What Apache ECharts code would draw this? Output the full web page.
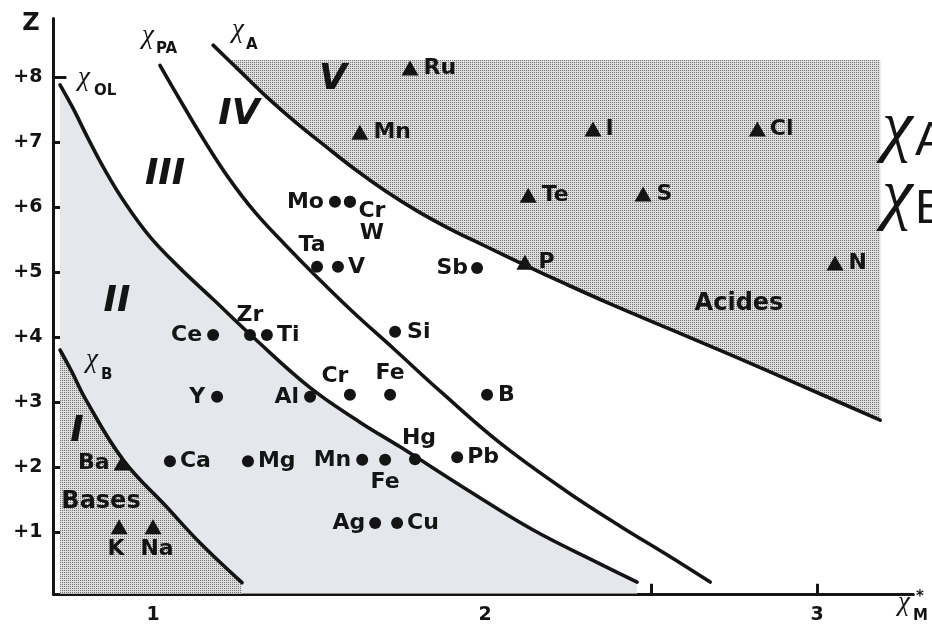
<!DOCTYPE html>
<html>
<head>
<meta charset="utf-8">
<title>Caractère acido-basique des oxydes</title>
<script src="https://cdn.jsdelivr.net/npm/echarts@6/dist/echarts.min.js"></script>
<style>
html, body { margin: 0; padding: 0; background: #fff; }
#chart { width: 932px; height: 628px; }
</style>
</head>
<body>
<div id="chart"></div>
<script>
// Boundary curves, each point is [χ*_M, Z]
const curveOL = [[0.720, 7.88], [0.759, 7.52], [0.804, 7.06], [0.855, 6.57], [0.916, 6.06], [0.991, 5.54],
  [1.081, 5.06], [1.181, 4.58], [1.301, 4.00], [1.473, 3.22], [1.623, 2.69], [1.744, 2.31], [1.946, 1.65],
  [2.145, 1.03], [2.346, 0.51], [2.458, 0.23]];
const curvePA = [[1.021, 8.18], [1.081, 7.65], [1.151, 7.05], [1.226, 6.46], [1.307, 5.92], [1.398, 5.42],
  [1.494, 4.92], [1.599, 4.40], [1.729, 3.80], [1.864, 3.17], [2.045, 2.37], [2.247, 1.62], [2.407, 1.09],
  [2.548, 0.65], [2.678, 0.23]];
const curveA = [[1.181, 8.49], [1.262, 8.09], [1.343, 7.69], [1.428, 7.31], [1.518, 6.94], [1.608, 6.58],
  [1.699, 6.25], [1.795, 5.94], [1.895, 5.66], [2.000, 5.40], [2.114, 5.12], [2.241, 4.82], [2.377, 4.51],
  [2.548, 4.14], [2.747, 3.71], [2.949, 3.26], [3.190, 2.72]];
const curveB = [[0.720, 3.80], [0.756, 3.46], [0.795, 3.06], [0.910, 2.11], [1.042, 1.38], [1.142, 0.83], [1.268, 0.22]];

// Upper limit of the acid field
const acidTopZ = 8.26;

// Elements plotted with a dot
const dotNames = ['Mo', 'Cr', 'W', 'Ta', 'V', 'Sb', 'Ce', 'Zr', 'Ti', 'Si', 'Y', 'Al', 'Cr', 'Fe', 'B',
  'Ca', 'Mg', 'Mn', 'Fe', 'Hg', 'Pb', 'Ag', 'Cu'];
const dotX = [1.548, 1.593, 1.593, 1.494, 1.557, 1.976, 1.181, 1.292, 1.343, 1.729, 1.193, 1.473, 1.593, 1.714, 2.006,
  1.051, 1.286, 1.630, 1.699, 1.789, 1.916, 1.669, 1.735];
const dotZ = [6.08, 6.08, 6.08, 5.08, 5.08, 5.06, 4.03, 4.03, 4.03, 4.08, 3.08, 3.08, 3.11, 3.11, 3.11,
  2.09, 2.09, 2.11, 2.11, 2.12, 2.15, 1.14, 1.14];

// Elements plotted with a triangle
const triNames = ['Ru', 'Mn', 'I', 'Cl', 'Te', 'S', 'P', 'N', 'Ba', 'K', 'Na'];
const triX = [1.774, 1.623, 2.325, 2.820, 2.130, 2.476, 2.120, 3.054, 0.907, 0.898, 1.000];
const triZ = [8.14, 7.15, 7.20, 7.20, 6.18, 6.20, 5.15, 5.14, 2.06, 1.08, 1.08];

// Axis ticks and labels
const xTicks = [1, 1.5, 2, 2.5, 3];
const xTickLabels = [1, 2, 3];
const zTicks = [1, 2, 3, 4, 5, 6, 7, 8];

// ---- label placement around each marker ----
const dotPlace = [
  ['left', 5], ['inside', 22, 9], ['inside', 22, 31], ['inside', -5, -22], ['right', 4], ['left', 3],
  ['left', 5], ['top', 3], ['right', 4], ['right', 6], ['left', 6], ['left', 5], ['inside', -15, -19],
  ['top', 5], ['right', 5], ['right', 4], ['right', 4], ['left', 5], ['bottom', 5], ['inside', 4, -21],
  ['right', 4], ['left', 4], ['right', 4]
];
const triPlace = [
  ['right', 5], ['right', 5], ['right', 4], ['right', 4], ['right', 5], ['right', 5], ['right', 5],
  ['right', 5], ['left', 4], ['inside', -3, 22], ['inside', 4, 22]
];

function labelFor(p) {
  if (p[0] === 'inside') return { position: 'inside', offset: [p[1], p[2]] };
  return { position: p[0], distance: p[1] };
}

const INK = '#141414';
const LABEL_FONT = { fontFamily: 'DejaVu Sans', fontWeight: 'bold', fontSize: 22, color: INK };

// Fine dot screen used for the shaded fields
function stipple() {
  const c = document.createElement('canvas');
  c.width = 2; c.height = 2;
  const g = c.getContext('2d');
  g.fillStyle = '#dedede';
  g.fillRect(0, 0, 2, 2);
  g.fillStyle = '#737373';
  g.fillRect(0, 0, 1, 1);
  return { image: c, repeat: 'repeat' };
}
const screen = stipple();

// Outline of the acid field: below the top limit, above χ_A
function acidOutline() {
  const pts = [];
  for (let i = 0; i < curveA.length - 1; i++) {
    const [x0, z0] = curveA[i], [x1, z1] = curveA[i + 1];
    if (z0 >= acidTopZ && z1 < acidTopZ) {
      const t = (z0 - acidTopZ) / (z0 - z1);
      pts.push([x0 + t * (x1 - x0), acidTopZ]);
    }
    if (z1 < acidTopZ) pts.push([x1, z1]);
  }
  pts.push([curveA[curveA.length - 1][0], acidTopZ]);
  return pts;
}
const acidPts = acidOutline();

function curveSeries(data, extra) {
  return Object.assign({
    type: 'line', data: data, showSymbol: false, symbol: 'none', silent: true,
    smooth: 0.4, z: 5,
    lineStyle: { color: INK, width: 3.6, cap: 'round', join: 'round' }
  }, extra || {});
}

// ---- free text on the figure ----
function txt(x, y, text, font, align) {
  return {
    type: 'text', x: x, y: y, z: 20, silent: true,
    style: Object.assign({
      text: text, fill: INK,
      align: align || 'center', verticalAlign: 'middle',
      textAlign: align || 'center', textVerticalAlign: 'middle'
    }, font)
  };
}
const CHI = { fontFamily: 'Liberation Serif', fontStyle: 'italic', fontSize: 27 };
const SUB = { fontFamily: 'DejaVu Sans', fontWeight: 'bold', fontSize: 15 };
const ROMAN = { fontFamily: 'DejaVu Sans', fontWeight: 'bold', fontStyle: 'italic', fontSize: 36 };
const WORD = { fontFamily: 'DejaVu Sans', fontWeight: 'bold', fontSize: 24 };

const graphics = [
  txt(31, 24, 'Z', { fontFamily: 'DejaVu Sans', fontWeight: 'bold', fontSize: 24 }),
  // curve names
  txt(84, 78, 'χ', CHI), txt(94, 91, 'OL', SUB, 'left'),
  txt(148, 36, 'χ', CHI), txt(156, 49, 'PA', SUB, 'left'),
  txt(238, 30, 'χ', CHI), txt(246, 45, 'A', SUB, 'left'),
  txt(92, 360, 'χ', CHI), txt(101, 375, 'B', SUB, 'left'),
  txt(904, 603, 'χ', CHI), txt(913, 616, 'M', SUB, 'left'), txt(920, 597, '*', SUB),
  // field numbers
  txt(333, 80, 'V', ROMAN), txt(239, 115, 'IV', ROMAN), txt(165, 175, 'III', ROMAN),
  txt(117, 302, 'II', ROMAN), txt(77, 432, 'I', ROMAN),
  txt(101, 502, 'Bases', WORD), txt(739, 304, 'Acides', WORD),
  // running text at the page edge
  txt(882, 130, 'χ', { fontFamily: 'Liberation Serif', fontStyle: 'italic', fontSize: 70 }, 'left'),
  txt(915, 142, 'A', { fontFamily: 'Liberation Sans', fontSize: 48 }, 'left'),
  txt(882, 198, 'χ', { fontFamily: 'Liberation Serif', fontStyle: 'italic', fontSize: 70 }, 'left'),
  txt(915, 210, 'B', { fontFamily: 'Liberation Sans', fontSize: 48 }, 'left')
];

const chart = echarts.init(document.getElementById('chart'), null, { renderer: 'canvas' });
chart.setOption({
  animation: false,
  backgroundColor: '#fff',
  grid: { left: 53.4, right: 18.6, top: 18.5, bottom: 34.25, containLabel: false },
  xAxis: {
    type: 'value', min: 0.7, max: 3.29,
    axisLine: { show: true, onZero: false, lineStyle: { color: INK, width: 3 } },
    axisTick: { show: true, inside: true, length: 10, customValues: xTicks, lineStyle: { color: INK, width: 3 } },
    axisLabel: { show: true, customValues: xTickLabels, margin: 12, color: INK,
      fontFamily: 'DejaVu Sans', fontWeight: 'bold', fontSize: 19 },
    splitLine: { show: false }
  },
  yAxis: {
    type: 'value', min: 0.05, max: 8.9,
    axisLine: { show: true, onZero: false, lineStyle: { color: INK, width: 3 } },
    axisTick: { show: true, inside: true, length: 13, customValues: zTicks, lineStyle: { color: INK, width: 3 } },
    axisLabel: { show: true, customValues: zTicks, margin: 11, color: INK,
      fontFamily: 'DejaVu Sans', fontWeight: 'bold', fontSize: 19,
      formatter: v => '+' + v },
    splitLine: { show: false }
  },
  graphic: graphics,
  series: [
    // field II tint under χ_OL
    curveSeries(curveOL, { lineStyle: { width: 0 }, areaStyle: { color: '#e4e7eb', opacity: 1, origin: 'start' }, z: 1 }),
    // field I (bases) screen under χ_B
    curveSeries(curveB, { lineStyle: { width: 0 }, areaStyle: { color: screen, opacity: 1, origin: 'start' }, z: 2 }),
    // field V (acids) screen above χ_A
    {
      type: 'custom', coordinateSystem: 'cartesian2d', silent: true, z: 1,
      data: [0],
      renderItem: (params, api) => ({
        type: 'polygon',
        shape: { points: acidPts.map(p => api.coord(p)) },
        style: { fill: screen, stroke: null }
      })
    },
    curveSeries(curveOL),
    curveSeries(curvePA),
    curveSeries(curveA),
    curveSeries(curveB),
    {
      type: 'scatter', symbol: 'circle', symbolSize: 12, z: 8, silent: true,
      itemStyle: { color: INK, opacity: 1 },
      label: Object.assign({ show: true, formatter: '{b}' }, LABEL_FONT),
      data: dotNames.map((n, i) => ({ name: n, value: [dotX[i], dotZ[i]], label: labelFor(dotPlace[i]) }))
    },
    {
      type: 'scatter', symbol: 'triangle', symbolSize: [17, 15], z: 8, silent: true,
      itemStyle: { color: INK, opacity: 1 },
      label: Object.assign({ show: true, formatter: '{b}' }, LABEL_FONT),
      data: triNames.map((n, i) => ({ name: n, value: [triX[i], triZ[i]], label: labelFor(triPlace[i]) }))
    }
  ]
});
</script>
</body>
</html>
